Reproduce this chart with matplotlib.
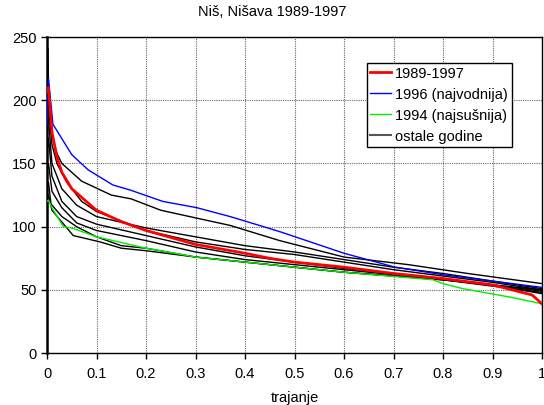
import matplotlib
matplotlib.use("Agg")
import matplotlib.pyplot as plt

plt.rcParams['font.family'] = ['Liberation Sans', 'DejaVu Sans']

# duration curves (x = trajanje, y = flow)
x_avg = [0.0, 0.003, 0.01, 0.02, 0.03, 0.05, 0.1, 0.15, 0.2, 0.3, 0.4, 0.45,
         0.5, 0.6, 0.7, 0.8, 0.9, 0.98, 1.0]
y_avg = [207, 210, 175, 155, 143, 130, 113, 104, 97, 86, 79, 75,
         72, 68, 63, 59, 54, 46, 39]

x_wet = [0.0, 0.003, 0.012, 0.05, 0.083, 0.133, 0.168, 0.234, 0.303, 0.37,
         0.404, 0.471, 0.6, 0.703, 0.8, 1.0]
y_wet = [180, 217, 181, 157, 145, 133, 129, 120, 115, 108,
         104, 96, 79, 68, 62, 52]

x_dry = [0.0, 0.003, 0.01, 0.033, 0.05, 0.1, 0.2, 0.3, 0.4, 0.5, 0.6,
         0.78, 0.8, 0.84, 0.94, 1.0]
y_dry = [120, 121, 115, 100, 99, 92, 83, 76, 72, 68, 64,
         58, 55, 51, 44, 39]

x_b1 = [0.0, 0.003, 0.008, 0.02, 0.03, 0.07, 0.13, 0.17, 0.23, 0.3, 0.37,
        0.47, 0.6, 0.73, 0.85, 1.0]
y_b1 = [180, 205, 175, 158, 150, 136, 125, 122, 113, 107, 101,
        89, 76, 70, 63, 55]
x_b2 = [0.0, 0.002, 0.004, 0.01, 0.03, 0.06, 0.1, 0.2, 0.3, 0.4, 0.5,
        0.6, 0.7, 0.8, 0.9, 1.0]
y_b2 = [200, 241, 180, 150, 130, 117, 108, 99, 92, 85, 80,
        74, 68, 63, 57, 51]
x_b3 = [0.0, 0.003, 0.01, 0.02, 0.04, 0.07, 0.1, 0.2, 0.3, 0.4, 0.5,
        0.6, 0.7, 0.8, 0.9, 1.0]
y_b3 = [190, 200, 165, 150, 135, 120, 112, 97, 88, 82, 78,
        72, 66, 61, 56, 50]
x_b4 = [0.0, 0.003, 0.01, 0.03, 0.06, 0.1, 0.2, 0.3, 0.4, 0.5, 0.6,
        0.7, 0.8, 0.9, 1.0]
y_b4 = [160, 170, 140, 120, 108, 102, 93, 84, 77, 72, 67,
        63, 59, 54, 47]
x_b5 = [0.0, 0.003, 0.01, 0.03, 0.06, 0.1, 0.2, 0.3, 0.4, 0.5, 0.6,
        0.7, 0.8, 0.9, 1.0]
y_b5 = [145, 150, 128, 115, 103, 97, 89, 80, 74, 70, 66,
        62, 58, 53, 48]
x_b6 = [0.0, 0.003, 0.008, 0.03, 0.06, 0.1, 0.15, 0.2, 0.3, 0.4, 0.5,
        0.6, 0.7, 0.8, 0.9, 1.0]
y_b6 = [130, 135, 118, 108, 100, 92, 85, 83, 76, 72, 68,
        64, 61, 58, 54, 50]
x_b7 = [0.0, 0.003, 0.01, 0.053, 0.107, 0.15, 0.2, 0.3, 0.4, 0.5, 0.6,
        0.7, 0.8, 0.9, 1.0]
y_b7 = [120, 125, 113, 93, 88, 83, 81, 76, 72, 68, 64,
        61, 58, 54, 49]

other_years = [(x_b1, y_b1), (x_b2, y_b2), (x_b3, y_b3), (x_b4, y_b4),
               (x_b5, y_b5), (x_b6, y_b6), (x_b7, y_b7)]

x_ticks = [0, 0.1, 0.2, 0.3, 0.4, 0.5, 0.6, 0.7, 0.8, 0.9, 1]
x_tick_labels = ['0', '0.1', '0.2', '0.3', '0.4', '0.5', '0.6', '0.7', '0.8', '0.9', '1']
y_ticks = [0, 50, 100, 150, 200, 250]

fig = plt.figure(figsize=(5.44, 4.05), dpi=100)
ax = fig.add_axes([0.0864, 0.128, 0.91, 0.7806])

for i, (xs, ys) in enumerate(other_years):
    ax.plot(xs, ys, color='black', lw=1.0,
            label='ostale godine' if i == 0 else None, zorder=2)
ax.plot(x_dry, y_dry, color='#00ee00', lw=1.0, label='1994 (najsušnija)', zorder=3)
ax.plot(x_wet, y_wet, color='#0000ff', lw=1.0, label='1996 (najvodnija)', zorder=3)
ax.plot(x_avg, y_avg, color='#ff0000', lw=2.0, label='1989-1997', zorder=4)

ax.set_xlim(0, 1)
ax.set_ylim(0, 250)
ax.set_xticks(x_ticks)
ax.set_xticklabels(x_tick_labels)
ax.set_yticks(y_ticks)
ax.tick_params(labelsize=10.5, direction='out', length=4, width=1, colors='black')
ax.tick_params(axis='x', pad=6)
ax.grid(True, color='#666666', linestyle=(0, (1, 1)), linewidth=0.8)
ax.set_axisbelow(True)
for side in ['top', 'right', 'bottom']:
    ax.spines[side].set_linewidth(1.0)
ax.spines['left'].set_linewidth(1.8)

ax.set_xlabel('trajanje', fontsize=10.5, labelpad=7)
fig.text(0.5, 0.97, 'Niš, Nišava 1989-1997', fontsize=10.5, ha='center', va='center')

handles, labels = ax.get_legend_handles_labels()
order = ['1989-1997', '1996 (najvodnija)', '1994 (najsušnija)', 'ostale godine']
hl = dict(zip(labels, handles))
leg = ax.legend([hl[k] for k in order], order, loc='upper left',
                bbox_to_anchor=(0.646, 0.918), fontsize=10.5, frameon=True,
                fancybox=False, edgecolor='black', framealpha=1,
                handlelength=1.4, handletextpad=0.3, labelspacing=0.48,
                borderpad=0.25, borderaxespad=0)
leg.get_frame().set_linewidth(1.0)
leg.legend_handles[3].set_color('#555555')
leg.legend_handles[3].set_linewidth(1.5)

fig.savefig('out.png', dpi=100)
